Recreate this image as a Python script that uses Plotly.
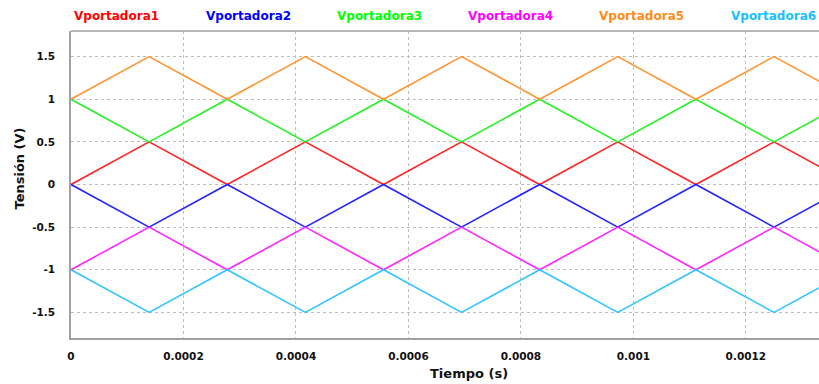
import plotly.graph_objects as go

# Vertex times of the triangular carriers (s); carrier frequency 3.6 kHz
t = [0, 0.0001389, 0.0002778, 0.0004167, 0.0005556, 0.0006944,
     0.0008333, 0.0009722, 0.0011111, 0.00125, 0.0013889]

# Carrier voltages at each vertex (V)
v1 = [0, 0.5, 0, 0.5, 0, 0.5, 0, 0.5, 0, 0.5, 0]
v2 = [0, -0.5, 0, -0.5, 0, -0.5, 0, -0.5, 0, -0.5, 0]
v3 = [1, 0.5, 1, 0.5, 1, 0.5, 1, 0.5, 1, 0.5, 1]
v4 = [-1, -0.5, -1, -0.5, -1, -0.5, -1, -0.5, -1, -0.5, -1]
v5 = [1, 1.5, 1, 1.5, 1, 1.5, 1, 1.5, 1, 1.5, 1]
v6 = [-1, -1.5, -1, -1.5, -1, -1.5, -1, -1.5, -1, -1.5, -1]

names = ["Vportadora1", "Vportadora2", "Vportadora3",
         "Vportadora4", "Vportadora5", "Vportadora6"]
series = [v1, v2, v3, v4, v5, v6]
line_colors = ["#FF2424", "#2424FF", "#24F024", "#FF24FF", "#FF9433", "#33C4FF"]
text_colors = ["#FF0000", "#0000FF", "#00FF00", "#FF00FF", "#FF8C1A", "#1ABFFF"]

x_ticks = [0, 0.0002, 0.0004, 0.0006, 0.0008, 0.001, 0.0012]
x_labels = ["0", "0.0002", "0.0004", "0.0006", "0.0008", "0.001", "0.0012"]
y_ticks = [-1.5, -1, -0.5, 0, 0.5, 1, 1.5]
y_labels = ["-1.5", "-1", "-0.5", "0", "0.5", "1", "1.5"]

FONT = "DejaVu Sans"
fig = go.Figure()
for name, vals, col in zip(names, series, line_colors):
    fig.add_trace(go.Scatter(x=t, y=vals, mode="lines", name=name,
                             line=dict(color=col, width=1.6),
                             showlegend=False))

# Legend row: coloured bold series names above the plot
legend_px = [72, 204, 335, 466, 597, 729]
left, right = 71, 819
for name, col, px in zip(names, text_colors, legend_px):
    fig.add_annotation(text="<b>%s</b>" % name, xref="paper", yref="paper",
                       x=(px - left) / (right - left), y=1.0 + 15 / 307,
                       xanchor="left", yanchor="middle", showarrow=False,
                       font=dict(family=FONT, size=12, color=col))

# Axis titles
fig.add_annotation(text="<b>Tiempo (s)</b>", xref="paper", yref="paper",
                   x=(469 - left) / (right - left), y=-35 / 307,
                   xanchor="center", yanchor="middle", showarrow=False,
                   font=dict(family=FONT, size=13, color="#111111"))
fig.add_annotation(text="<b>Tensión (V)</b>", xref="paper", yref="paper",
                   x=(19 - left) / (right - left), y=(338 - 168.5) / 307,
                   xanchor="center", yanchor="middle", showarrow=False,
                   textangle=-90,
                   font=dict(family=FONT, size=13, color="#111111"))

# Top frame line
fig.add_shape(type="line", xref="paper", yref="paper", x0=0, x1=1, y0=1, y1=1,
              line=dict(color="#A0A0A0", width=1.5))

tick_font = dict(family=FONT, size=10.5, color="#111111", weight="bold")

fig.update_layout(
    width=819, height=384,
    margin=dict(l=71, r=0, t=31, b=46),
    paper_bgcolor="white", plot_bgcolor="white",
    font=dict(family=FONT, color="#111111"),
    xaxis=dict(range=[0, 0.00133], tickvals=x_ticks, ticktext=x_labels,
               showgrid=True, gridcolor="#BDBDBD", griddash="dot", gridwidth=1,
               zeroline=False, showline=True, linecolor="#A0A0A0", linewidth=1.5,
               ticks="", ticklabelstandoff=8, tickfont=tick_font),
    yaxis=dict(range=[-1.8, 1.8], tickvals=y_ticks, ticktext=y_labels,
               showgrid=True, gridcolor="#BDBDBD", griddash="dot", gridwidth=1,
               zeroline=False, showline=True, linecolor="#A0A0A0", linewidth=1.5,
               ticks="", ticklabelstandoff=12, tickfont=tick_font),
)

fig.write_html("out.html")
